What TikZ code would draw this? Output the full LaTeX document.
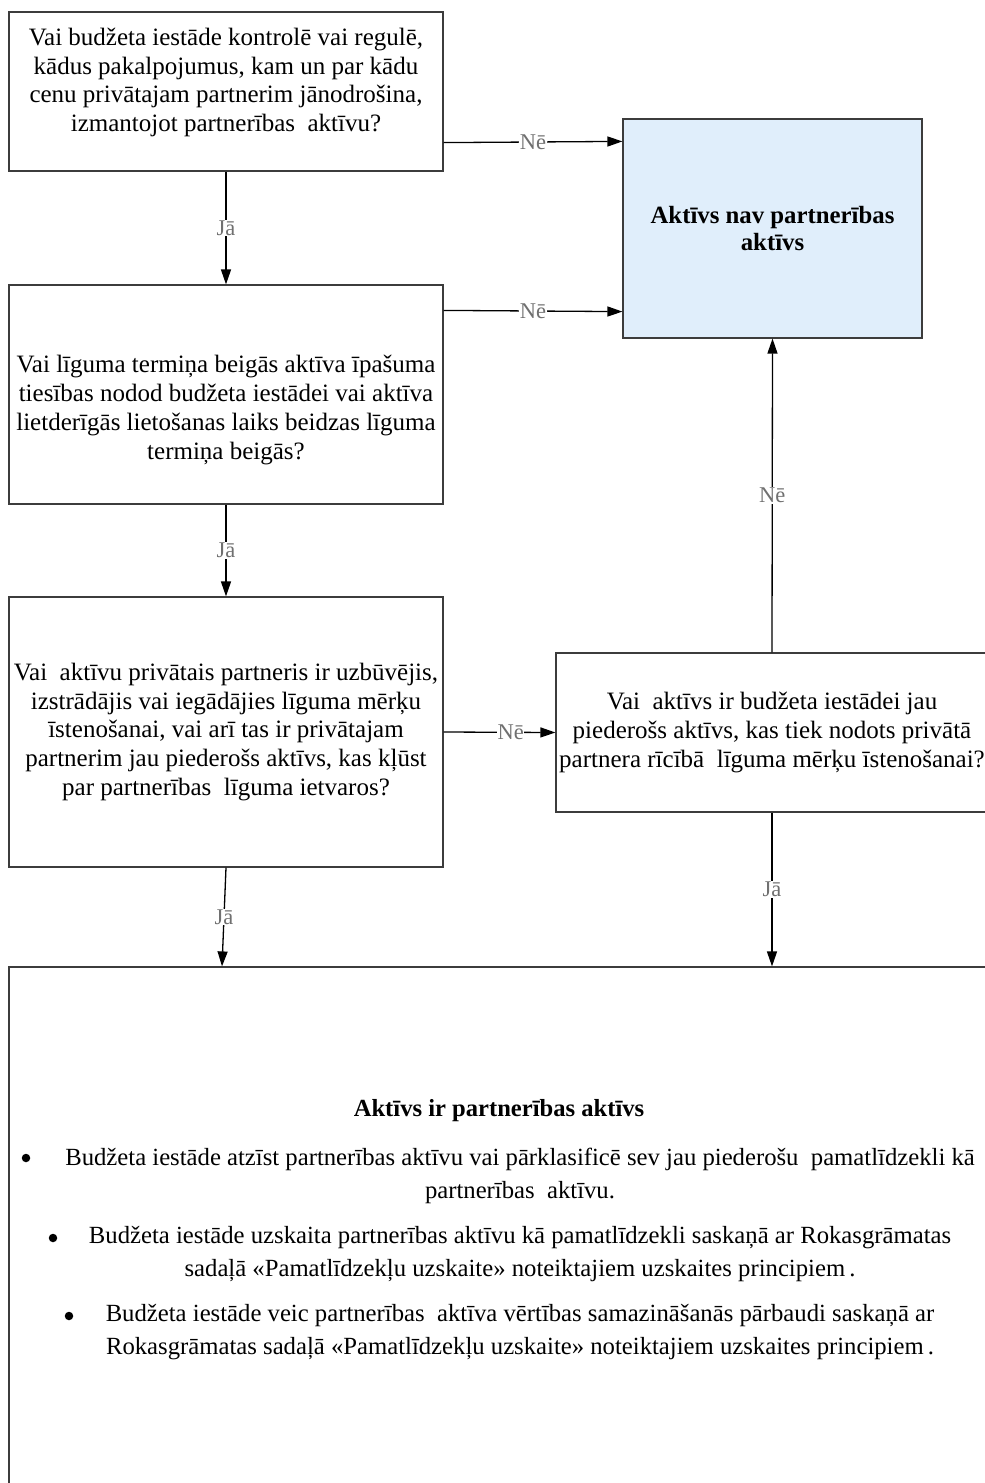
\documentclass[tikz,border=0pt]{standalone}
\usepackage{fontspec}
\setmainfont{Liberation Serif}
\usetikzlibrary{arrows.meta}
\definecolor{lblue}{RGB}{224,238,251}
\definecolor{lblgray}{RGB}{112,112,112}
\definecolor{edge}{RGB}{60,60,60}
\begin{document}
\begin{tikzpicture}[x=1pt,y=-1pt,
  qbox/.style={draw=edge, line width=1.2pt, align=center, inner sep=0pt,
    font=\fontsize{25}{28.75}\selectfont},
  qtext/.style={align=center, inner sep=0pt, font=\fontsize{25}{28.75}\selectfont},
  lbl/.style={fill=white, text=lblgray, inner sep=0.6pt, font=\fontsize{22.5}{25}\selectfont},
  arr/.style={-{Triangle[length=15pt,width=10pt]}, line width=1.3pt},
  btext/.style={align=center, inner sep=0pt, font=\fontsize{24.7}{33}\selectfont},
  bdot/.style={circle, fill=black, inner sep=0pt, minimum size=8.5pt}
]
\useasboundingbox (0,0) rectangle (985,1483);
\clip (0,0) rectangle (985,1483);

% boxes
\node[qbox, minimum width=434pt, minimum height=159pt] (q1) at (226,91.5) {};
\node[qtext] (q1t) at (226,82.5)
  {Vai budžeta iestāde kontrolē vai regulē,\\ kādus pakalpojumus, kam un par kādu\\ cenu privātajam partnerim jānodrošina,\\ izmantojot partnerības\ \ aktīvu?};
\node[qbox, fill=lblue, minimum width=299pt, minimum height=219pt,
  font=\bfseries\fontsize{24.8}{27}\selectfont] (na) at (772.5,228.5)
  {Aktīvs nav partnerības\\ aktīvs};
\node[qbox, minimum width=434pt, minimum height=219pt] (q2) at (226,394.5) {};
\node[qtext] (q2t) at (226,410)
  {Vai līguma termiņa beigās aktīva īpašuma\\ tiesības nodod budžeta iestādei vai aktīva\\ lietderīgās lietošanas laiks beidzas līguma\\ termiņa beigās?};
\node[qbox, minimum width=434pt, minimum height=270pt] (q3) at (226,732)
  {Vai\ \ aktīvu privātais partneris ir uzbūvējis,\\ izstrādājis vai iegādājies līguma mērķu\\ īstenošanai, vai arī tas ir privātajam\\ partnerim jau piederošs aktīvs, kas kļūst\\ par partnerības\ \ līguma ietvaros?};
\node[qbox, minimum width=432pt, minimum height=159pt] (q4) at (772,732.5)
  {Vai\ \ aktīvs ir budžeta iestādei jau\\ piederošs aktīvs, kas tiek nodots privātā\\ partnera rīcībā\ \ līguma mērķu īstenošanai?};
\node[qbox, minimum width=981pt, minimum height=553pt] (q5) at (499.5,1243.5) {};

% bottom box content
\node[font=\bfseries\fontsize{24.6}{28}\selectfont, inner sep=0pt] (t5) at (499,1111)
  {Aktīvs ir partnerības aktīvs};
\node[bdot] (d1) at (26,1158) {};
\node[btext] (b1) at (520,1175.5)
  {Budžeta iestāde atzīst partnerības aktīvu vai pārklasificē sev jau piederošu\ \ pamatlīdzekli kā\\ partnerības\ \ aktīvu.};
\node[bdot] (d2) at (53,1238) {};
\node[btext] (b2) at (520,1254)
  {Budžeta iestāde uzskaita partnerības aktīvu kā pamatlīdzekli saskaņā ar Rokasgrāmatas\\ sadaļā «Pamatlīdzekļu uzskaite» noteiktajiem uzskaites principiem\,.};
\node[bdot] (d3) at (69,1316) {};
\node[btext] (b3) at (520,1332)
  {Budžeta iestāde veic partnerības\ \ aktīva vērtības samazināšanās pārbaudi saskaņā ar\\ Rokasgrāmatas sadaļā «Pamatlīdzekļu uzskaite» noteiktajiem uzskaites principiem\,.};

% connectors
\draw[arr] ([yshift=29pt]q1.south east) -- ([yshift=-23pt]na.north west)
  node[lbl, midway] {Nē};
\draw[arr] ([yshift=-26pt]q2.north east) -- ([yshift=27pt]na.south west)
  node[lbl, midway] {Nē};
\draw[arr] (q1.south) -- (q2.north) node[lbl, midway] {Jā};
\draw[arr] (q2.south) -- (q3.north) node[lbl, midway] {Jā};
\draw[arr] (q3.east) -- (q4.west) node[lbl, pos=0.6] {Nē};
\draw[arr] (q4.north) -- (na.south) node[lbl, midway] {Nē};
\draw[arr] (q3.south) -- ([xshift=-4pt]q3.south |- q5.north) node[lbl, midway] {Jā};
\draw[arr] (q4.south) -- (q4.south |- q5.north) node[lbl, midway] {Jā};
\end{tikzpicture}
\end{document}
